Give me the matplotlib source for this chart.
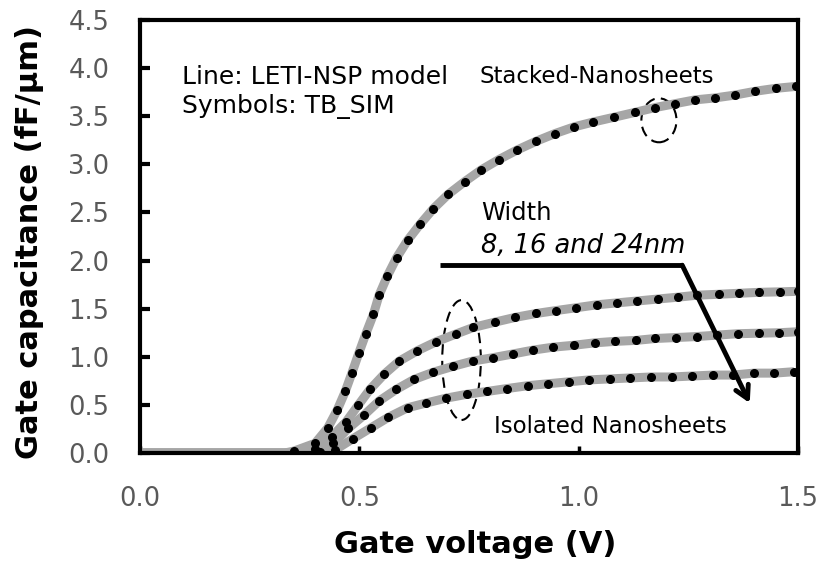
import matplotlib
matplotlib.use("Agg")
import matplotlib.pyplot as plt
from matplotlib.patches import Ellipse

plt.rcParams['font.family'] = ['DejaVu Sans']

# ---- data ----
xlim = (0.0, 1.5)
ylim = (0.0, 4.5)
xticks = [0.0, 0.5, 1.0, 1.5]
yticks = [0.0, 0.5, 1.0, 1.5, 2.0, 2.5, 3.0, 3.5, 4.0, 4.5]

# TB_SIM symbols
stacked_x = [0.351, 0.399, 0.428, 0.450, 0.468, 0.483, 0.499, 0.515, 0.532, 0.545,
             0.564, 0.585, 0.610, 0.639, 0.669, 0.703, 0.740, 0.777, 0.818, 0.860,
             0.903, 0.946, 0.990, 1.033, 1.081, 1.128, 1.174, 1.219, 1.265, 1.310,
             1.356, 1.403, 1.449, 1.495]
stacked_y = [0.02, 0.10, 0.26, 0.45, 0.64, 0.83, 1.04, 1.24, 1.44, 1.64,
             1.84, 2.03, 2.21, 2.38, 2.54, 2.69, 2.82, 2.94, 3.05, 3.15,
             3.24, 3.32, 3.39, 3.44, 3.49, 3.54, 3.59, 3.63, 3.67, 3.69,
             3.72, 3.76, 3.79, 3.81]

w24_x = [0.399, 0.437, 0.470, 0.498, 0.524, 0.557, 0.591, 0.632, 0.675, 0.720,
         0.760, 0.809, 0.856, 0.903, 0.948, 0.995, 1.041, 1.087, 1.134, 1.180,
         1.227, 1.270, 1.320, 1.365, 1.412, 1.459, 1.500]
w24_y = [0.04, 0.17, 0.325, 0.50, 0.66, 0.82, 0.955, 1.062, 1.156, 1.236,
         1.305, 1.36, 1.41, 1.45, 1.48, 1.51, 1.54, 1.56, 1.58, 1.60,
         1.62, 1.64, 1.65, 1.66, 1.67, 1.675, 1.68]

w16_x = [0.410, 0.441, 0.475, 0.511, 0.545, 0.584, 0.625, 0.669, 0.713, 0.758,
         0.804, 0.851, 0.897, 0.942, 0.990, 1.037, 1.083, 1.130, 1.175, 1.222,
         1.269, 1.315, 1.364, 1.411, 1.457, 1.500]
w16_y = [0.01, 0.10, 0.256, 0.395, 0.54, 0.66, 0.765, 0.84, 0.90, 0.955,
         0.99, 1.03, 1.07, 1.10, 1.12, 1.145, 1.16, 1.17, 1.19, 1.20,
         1.21, 1.225, 1.24, 1.245, 1.25, 1.26]

w8_x = [0.444, 0.486, 0.526, 0.566, 0.610, 0.653, 0.698, 0.745, 0.792, 0.837,
        0.885, 0.931, 0.978, 1.024, 1.071, 1.117, 1.165, 1.212, 1.259, 1.307,
        1.352, 1.400, 1.446, 1.491]
w8_y = [0.03, 0.15, 0.26, 0.37, 0.47, 0.52, 0.57, 0.61, 0.64, 0.67,
        0.70, 0.72, 0.74, 0.76, 0.77, 0.78, 0.79, 0.79, 0.80, 0.81,
        0.81, 0.83, 0.83, 0.845]

# LETI-NSP model: flat zero section before each curve turns on
model_onset = [0.33, 0.37, 0.39, 0.42]

series = [(stacked_x, stacked_y), (w24_x, w24_y), (w16_x, w16_y), (w8_x, w8_y)]

# ---- figure ----
fig = plt.figure(figsize=(8.22, 5.63), dpi=100)
ax = fig.add_axes([0.1703, 0.1954, 0.8005, 0.769])

line_color = '#a6a6a6'
for (xs, ys), onset in zip(series, model_onset):
    ax.plot([0.0, onset] + xs, [0.0, 0.0] + ys, color=line_color, lw=6.5,
            solid_capstyle='butt', zorder=2)
for xs, ys in series:
    ax.plot(xs, ys, ls='none', marker='o', ms=5.5, color='black', zorder=3)

ax.set_xlim(*xlim)
ax.set_ylim(*ylim)
ax.set_xticks(xticks)
ax.set_yticks(yticks)
ax.set_xticklabels([f"{v:.1f}" for v in xticks])
ax.set_yticklabels([f"{v:.1f}" for v in yticks])
for s in ax.spines.values():
    s.set_linewidth(3)
    s.set_color('black')
ax.tick_params(axis='y', direction='in', length=7, width=3, pad=22,
               labelsize=18.5, labelcolor='#595959', color='black')
ax.tick_params(axis='x', direction='in', length=5, width=2.5, pad=24,
               labelsize=18.5, labelcolor='#595959', color='black')

# annotations
ax.text(0.095, 3.84, "Line: LETI-NSP model", fontsize=18, va='baseline', ha='left')
ax.text(0.095, 3.53, "Symbols: TB_SIM", fontsize=18, va='baseline', ha='left')
ax.text(0.775, 3.85, "Stacked-Nanosheets", fontsize=16.5, va='baseline', ha='left')
ax.text(0.777, 2.42, "Width", fontsize=17.5, va='baseline', ha='left')
ax.text(0.777, 2.08, "8, 16 and 24nm", fontsize=18.5, style='italic', va='baseline', ha='left')
ax.text(0.808, 0.21, "Isolated Nanosheets", fontsize=16.5, va='baseline', ha='left')

ax.add_patch(Ellipse((0.733, 0.966), 0.088, 1.246, fill=False, ls=(0, (5, 3)),
                     lw=1.5, color='black', zorder=1))
ax.add_patch(Ellipse((1.183, 3.458), 0.08, 0.457, fill=False, ls=(0, (5, 3)),
                     lw=1.5, color='black', zorder=1))

ax.plot([0.684, 1.238], [1.952, 1.952], color='black', lw=3.5, solid_capstyle='butt', zorder=4)
ax.annotate("", xy=(1.390, 0.519), xytext=(1.236, 1.952),
            arrowprops=dict(arrowstyle='->,head_length=0.9,head_width=0.5',
                            lw=3.5, color='black', shrinkA=0, shrinkB=0), zorder=4)

fig.text(0.036, 0.57, "Gate capacitance (fF/\u00b5m)", rotation=90, fontsize=22,
         fontweight='bold', ha='center', va='center')
fig.text(0.578, 0.032, "Gate voltage (V)", fontsize=22, fontweight='bold',
         ha='center', va='center')

fig.savefig("out.png", dpi=100)
